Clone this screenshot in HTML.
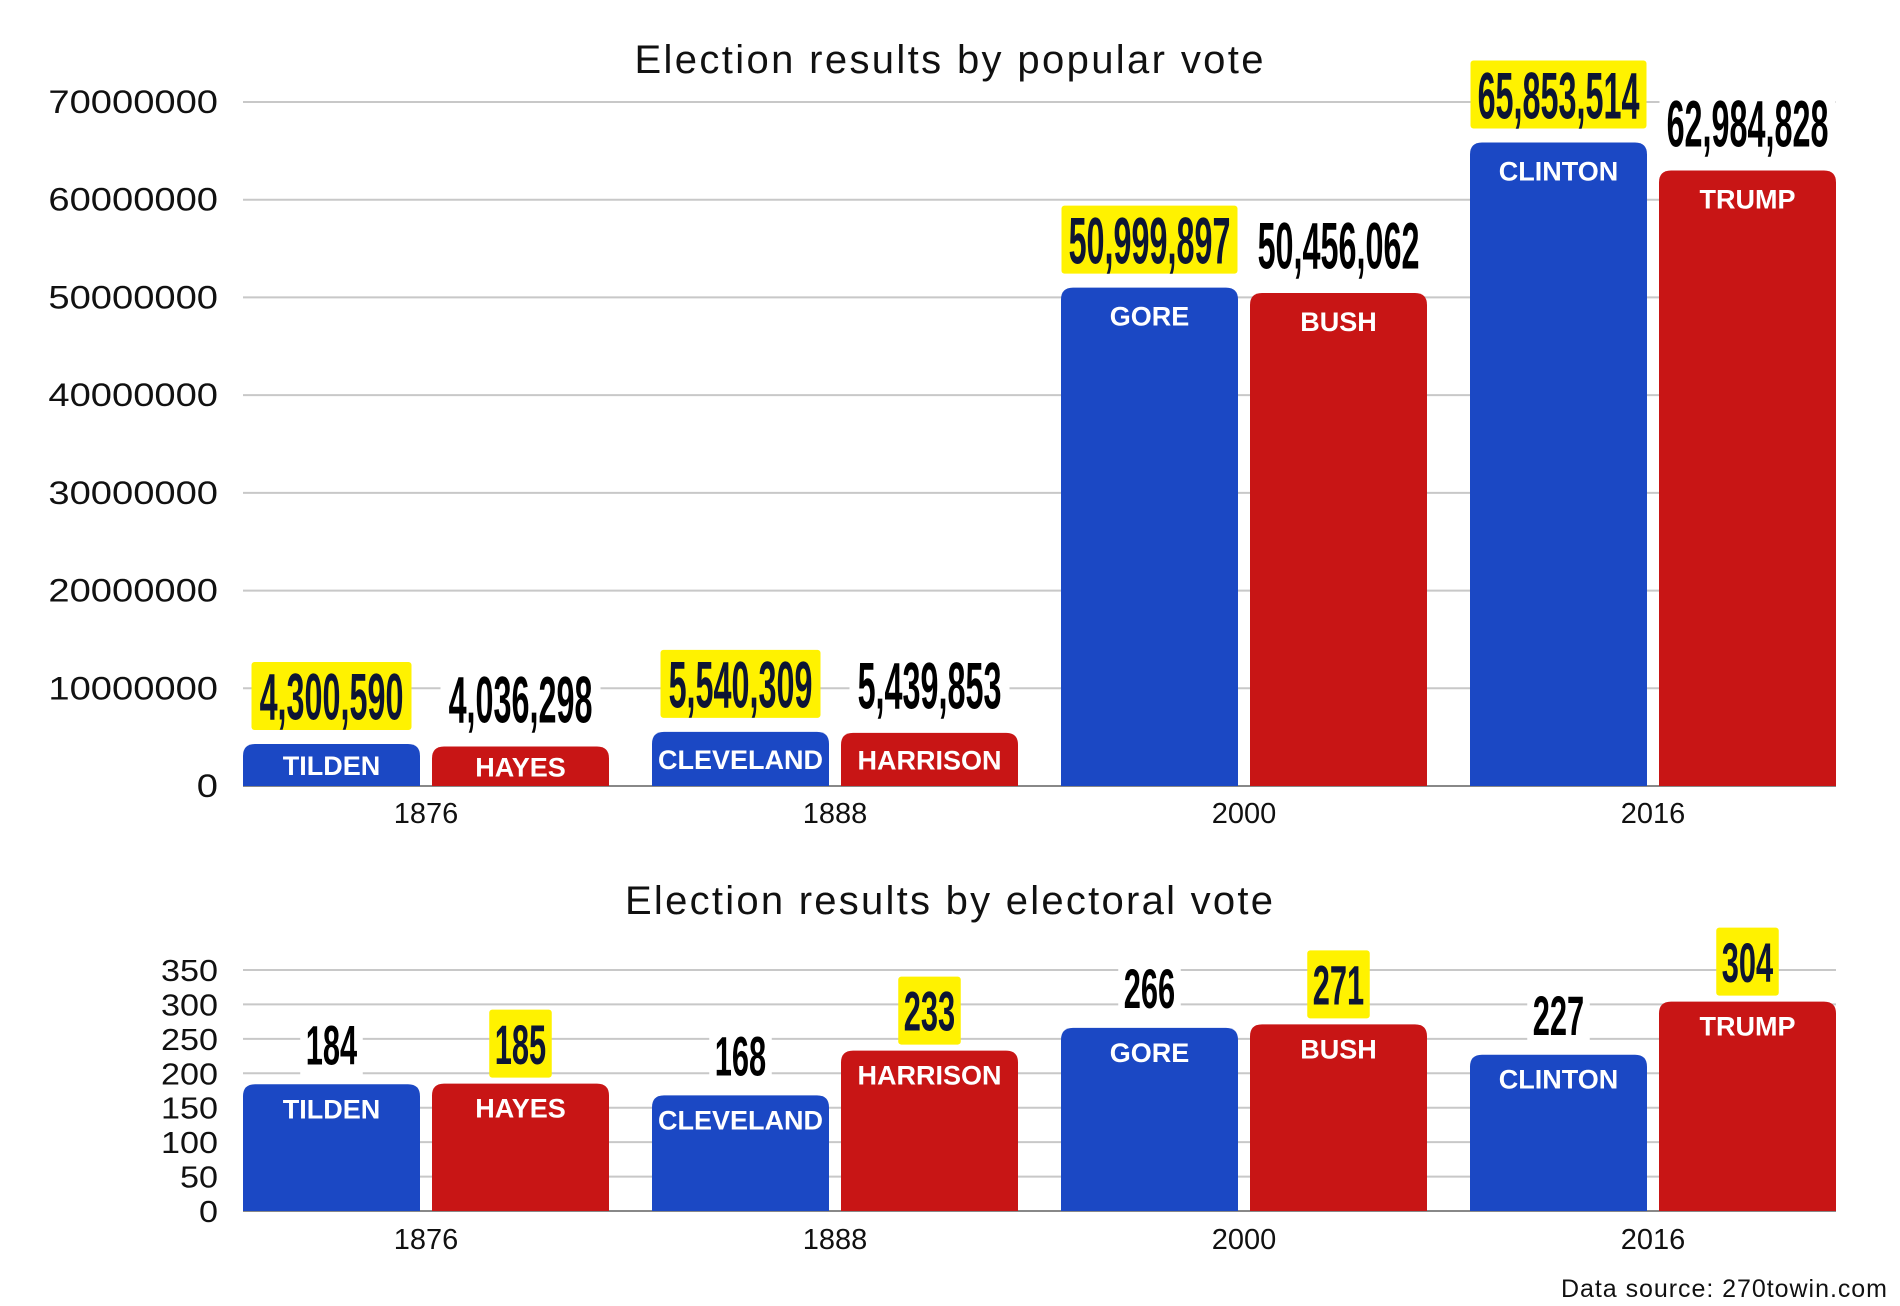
<!DOCTYPE html>
<html><head><meta charset="utf-8">
<style>
html,body{margin:0;padding:0;background:#fff;}
svg{display:block;font-family:"Liberation Sans",sans-serif;}
</style></head>
<body>
<svg id="chart" width="1900" height="1306" viewBox="0 0 1900 1306">
<rect width="1900" height="1306" fill="#fff"/>
<text x="949" y="73" font-size="40" text-anchor="middle" textLength="629" lengthAdjust="spacing" fill="#111">Election results by popular vote</text>
<text x="949" y="914" font-size="40" text-anchor="middle" textLength="648" lengthAdjust="spacing" fill="#111">Election results by electoral vote</text>
<text x="1887" y="1297" font-size="25" text-anchor="end" textLength="326" lengthAdjust="spacing" fill="#111">Data source: 270towin.com</text>
<g id="top"></g>
<g id="bottom"></g>
</svg>
<script>
const years = ["1876","1888","2000","2016"];
const demNames = ["TILDEN","CLEVELAND","GORE","CLINTON"];
const repNames = ["HAYES","HARRISON","BUSH","TRUMP"];
const demPopular = [4300590, 5540309, 50999897, 65853514];
const repPopular = [4036298, 5439853, 50456062, 62984828];
const demElectoral = [184, 168, 266, 227];
const repElectoral = [185, 233, 271, 304];
const popTicks = [0,10000000,20000000,30000000,40000000,50000000,60000000,70000000];
const elTicks = [0,50,100,150,200,250,300,350];

const NS = "http://www.w3.org/2000/svg";
function mk(tag, attrs, parent){const e=document.createElementNS(NS,tag);for(const k in attrs)e.setAttribute(k,attrs[k]);parent.appendChild(e);return e;}
function fmt(v){return v.toLocaleString("en-US");}
const BLUE="#1b48c4", RED="#c81515", YEL="#fff200";
const plotL=243, plotR=1836;
function xCenter(i){return 426+i*409;}

function drawChart(g, cfg){
  const y = v => cfg.y0 - (v/cfg.max)*(cfg.y0-cfg.yTop);
  cfg.ticks.forEach(t=>{
    const ln=mk("line",{x1:plotL,x2:plotR,y1:y(t),y2:y(t),stroke:t===0?"#888":"#c8c8c8","stroke-width":2},g);
    
    
    const s=String(t);
    const attrs={x:218,y:y(t)+11,"font-size":cfg.tickSize,"text-anchor":"end",fill:"#111"};
    if(cfg.tickCharW){attrs.textLength=s.length*cfg.tickCharW;attrs.lengthAdjust="spacingAndGlyphs";}
    const tx=mk("text",attrs,g);
    tx.textContent=s;
    
    
  });
  years.forEach((yr,i)=>{
    const c=xCenter(i);
    const xl=mk("text",{x:c,y:cfg.xLabelY,"font-size":29,"text-anchor":"middle",fill:"#111"},g);
    xl.textContent=yr;
    
    
    const pairs=[[cfg.dem[i],demNames[i],BLUE,c-183,cfg.dem[i]>=cfg.rep[i]],[cfg.rep[i],repNames[i],RED,c+6,cfg.rep[i]>cfg.dem[i]]];
    pairs.forEach(([v,name,col,x,win])=>{
      const top=y(v), h=cfg.y0-top, w=177, r=Math.min(12,h/2);
      const p=mk("path",{d:`M${x},${cfg.y0} V${top+r} Q${x},${top} ${x+r},${top} H${x+w-r} Q${x+w},${top} ${x+w},${top+r} V${cfg.y0} Z`,fill:col},g);
      
      
      const ny=top+Math.min(cfg.nameOff,h/2)+10;
      const nt=mk("text",{x:x+w/2,y:ny,"font-size":27,"font-weight":"bold","text-anchor":"middle",fill:"#fff"},g);
      nt.textContent=name;
      
      
      const label=cfg.valFmt(v);
      const cy=top-cfg.valOff;
      const tw=label.length*cfg.charW;
      const bg=mk("rect",{x:x+w/2-tw/2-8,y:cy-cfg.boxH/2,width:tw+16,height:cfg.boxH,rx:3,fill:win?YEL:"#fff"},g);
      
      
      const vt=mk("text",{x:0,y:0,"font-size":cfg.valSize,"font-weight":"bold","text-anchor":"middle",fill:win?"#0d1533":"#000",
        transform:`translate(${x+w/2},${cy+cfg.valSize*0.36}) scale(${cfg.sx},1)`},g);
      vt.textContent=label;
      
      
    });
  });
}
drawChart(document.getElementById("top"),{
  y0:786,yTop:102,max:70000000,ticks:popTicks,xLabelY:823,tickSize:32,tickCharW:21.2,
  dem:demPopular,rep:repPopular,nameOff:28,valOff:48,boxH:68,valSize:66,sx:0.49,charW:16,valFmt:fmt
});
drawChart(document.getElementById("bottom"),{
  y0:1211,yTop:970,max:350,ticks:elTicks,xLabelY:1249,tickSize:31,tickCharW:19,
  dem:demElectoral,rep:repElectoral,nameOff:24,valOff:40,boxH:68,valSize:56,sx:0.55,charW:15.5,valFmt:v=>String(v)
});
</script>
</body></html>
